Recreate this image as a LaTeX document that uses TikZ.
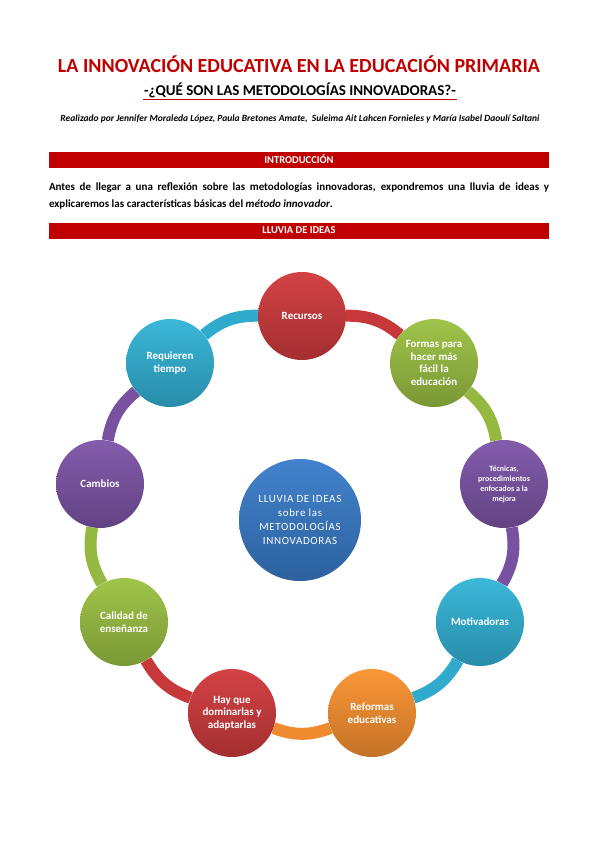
\documentclass[tikz,border=0pt]{standalone}
\usepackage{fontspec}
\setmainfont{Carlito}
\usetikzlibrary{positioning, backgrounds}

\definecolor{titlered}{HTML}{C00000}
\definecolor{ideared}{HTML}{D13B3D}
\definecolor{ideagreen}{HTML}{9CC243}
\definecolor{ideapurple}{HTML}{7E55A8}
\definecolor{ideacyan}{HTML}{33B4D8}
\definecolor{ideaorange}{HTML}{FA9230}
\definecolor{ideablue}{HTML}{3A7DCB}

\begin{document}
\begin{tikzpicture}[x=1pt, y=-1pt,
    bar/.style={fill=titlered, minimum width=500pt, minimum height=16pt, inner sep=0pt, text=white, font=\bfseries\fontsize{10.5}{10.5}\selectfont},
    idea/.style={circle, minimum size=88pt, inner sep=1pt, text=white, align=center, font=\bfseries\fontsize{11}{12.5}\selectfont},
    ball/.style={idea, top color=#1!96!white, bottom color=#1!78!black},
    ring/.style={line width=12pt, #1!95!black}]
    \useasboundingbox (0,0) rectangle (599,848);

    % heading
    \node[text=titlered, font=\bfseries\fontsize{20}{22}\selectfont] (title) at (299,64) {LA INNOVACIÓN EDUCATIVA EN LA EDUCACIÓN PRIMARIA};
    \node[font=\bfseries\fontsize{15}{17}\selectfont, inner sep=1pt] (sub) at (300,90) {-¿QUÉ SON LAS METODOLOGÍAS INNOVADORAS?-};
    \draw[titlered, line width=1.3pt] ([yshift=-0.5pt]sub.south west) -- ([yshift=-0.5pt]sub.south east);
    \node[font=\bfseries\itshape\fontsize{9.5}{11}\selectfont] (authors) at (300,119) {Realizado por Jennifer Moraleda López, Paula Bretones Amate, \ Suleima Ait Lahcen Fornieles y María Isabel Daoulí Saltani};

    \node[bar] (intro) at (299,159.5) {INTRODUCCIÓN};
    \node[text width=500pt, inner sep=0pt, align=justify, font=\bfseries\fontsize{11}{17}\selectfont] (text) at (299,196) {Antes de llegar a una reflexión sobre las metodologías innovadoras, expondremos una lluvia de ideas y\linebreak explicaremos las características básicas del \textit{método innovador}.};
    \node[bar] (lluvia) at (299,230.5) {LLUVIA DE IDEAS};

    % ideas round the ring
    \node[ball=ideablue, minimum size=122pt, font=\fontsize{11}{14}\selectfont\addfontfeature{LetterSpace=6}] (centre) at (300,520) {LLUVIA DE IDEAS\\sobre las\\METODOLOGÍAS\\INNOVADORAS};
    \node[ball=ideared] (recursos) at (302,316) {Recursos};
    \node[ball=ideagreen] (formas) at (434,363) {Formas para\\hacer más\\fácil la\\educación};
    \node[ball=ideapurple, font=\bfseries\fontsize{8}{10}\selectfont] (tecnicas) at (504,484) {Técnicas,\\procedimientos\\enfocados a la\\mejora};
    \node[ball=ideacyan] (motivadoras) at (480,622) {Motivadoras};
    \node[ball=ideaorange] (reformas) at (372,713) {Reformas\\educativas};
    \node[ball=ideared] (hayque) at (232,713) {Hay que\\dominarlas y\\adaptarlas};
    \node[ball=ideagreen] (calidad) at (124,622) {Calidad de\\enseñanza};
    \node[ball=ideapurple] (cambios) at (100,484) {Cambios};
    \node[ball=ideacyan] (requieren) at (170,363) {Requieren\\tiempo};

    \begin{scope}[on background layer]
    \draw[ring=ideared] (recursos) to[bend left=20] (formas);
    \draw[ring=ideagreen] (formas) to[bend left=20] (tecnicas);
    \draw[ring=ideapurple] (tecnicas) to[bend left=20] (motivadoras);
    \draw[ring=ideacyan] (motivadoras) to[bend left=20] (reformas);
    \draw[ring=ideaorange] (reformas) to[bend left=20] (hayque);
    \draw[ring=ideared] (hayque) to[bend left=20] (calidad);
    \draw[ring=ideagreen] (calidad) to[bend left=20] (cambios);
    \draw[ring=ideapurple] (cambios) to[bend left=20] (requieren);
    \draw[ring=ideacyan] (requieren) to[bend left=20] (recursos);
    \end{scope}
\end{tikzpicture}
\end{document}
